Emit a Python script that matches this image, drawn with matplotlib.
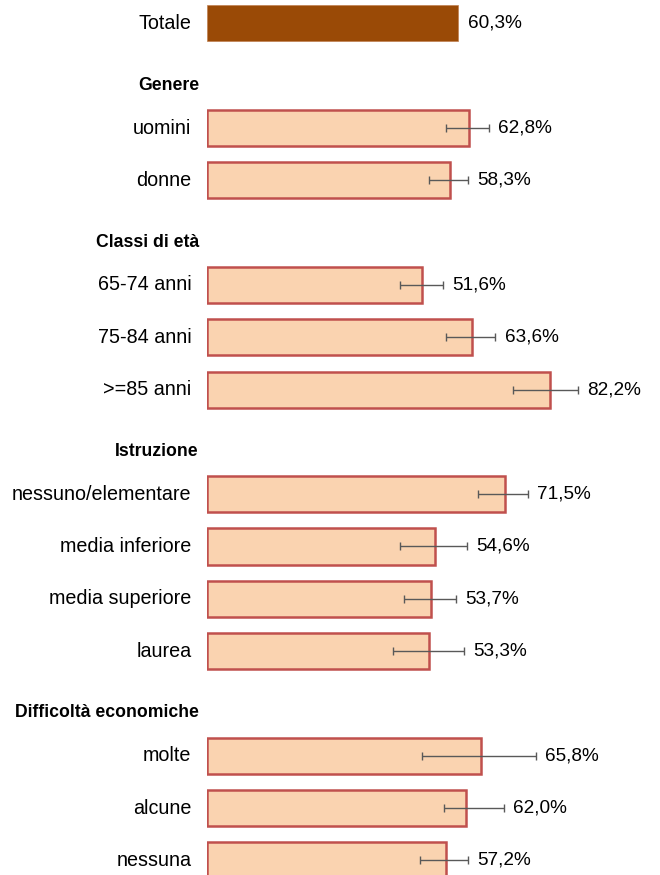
import matplotlib
matplotlib.use('Agg')
import matplotlib.pyplot as plt

plt.rcParams['font.family'] = ['Liberation Sans', 'DejaVu Sans']

# dati
totale_label = 'Totale'
totale = 60.3

groups = ['Genere', 'Classi di età', 'Istruzione', 'Difficoltà economiche']
group_sizes = [2, 3, 4, 3]

labels = ['uomini', 'donne',
          '65-74 anni', '75-84 anni', '>=85 anni',
          'nessuno/elementare', 'media inferiore', 'media superiore', 'laurea',
          'molte', 'alcune', 'nessuna']
values = [62.8, 58.3,
          51.6, 63.6, 82.2,
          71.5, 54.6, 53.7, 53.3,
          65.8, 62.0, 57.2]
ci_low = [57.3, 53.3,
          46.3, 57.3, 73.4,
          65.1, 46.3, 47.3, 44.5,
          51.6, 56.9, 51.1]
ci_high = [67.6, 62.7,
           56.5, 69.2, 89.1,
           76.9, 62.3, 59.7, 61.7,
           79.0, 71.3, 62.7]

# posizioni delle righe
rows = []
header_rows = []
r = 1
for g, n in zip(groups, group_sizes):
    header_rows.append(r)
    r += 1
    for i in range(n):
        rows.append(r)
        r += 1

fig = plt.figure(figsize=(6.6, 8.75), dpi=100)
ax = fig.add_axes([207.3 / 660, 0, 1 - 207.3 / 660, 1])
ax.set_xlim(0, 108.7)
ax.set_ylim(16.28, -0.447)
ax.axis('off')

fs_cat = 14.2
fs_val = 13.7
h = 0.69

# totale
ax.barh(0, totale, height=h, color='#9a4a06', edgecolor='#c08050', linewidth=0.5)
ax.text(totale + 2.4, 0, f'{totale:.1f}%'.replace('.', ','), va='center', ha='left', fontsize=fs_val)
ax.text(-3.8, 0, totale_label, va='center', ha='right', fontsize=fs_cat, clip_on=False)

# barre dei sottogruppi
ax.barh(rows, values, height=h, color='#fad3b0', edgecolor='#c0504d', linewidth=1.8)
xerr = [[v - lo for v, lo in zip(values, ci_low)], [hi - v for v, hi in zip(values, ci_high)]]
ax.errorbar(values, rows, xerr=xerr, fmt='none', ecolor='#595959', elinewidth=1.0,
            capsize=2.8, capthick=1.0)

for y, v, hi, lab in zip(rows, values, ci_high, labels):
    ax.text(max(v, hi) + 2.2, y, f'{v:.1f}%'.replace('.', ','), va='center', ha='left', fontsize=fs_val)
    ax.text(-3.8, y, lab, va='center', ha='right', fontsize=fs_cat, clip_on=False)

for y, g in zip(header_rows, groups):
    ax.text(-2.0, y + 0.18, g, va='center', ha='right', fontsize=12.7, fontweight='bold', clip_on=False)

fig.savefig('out.png', dpi=100)
